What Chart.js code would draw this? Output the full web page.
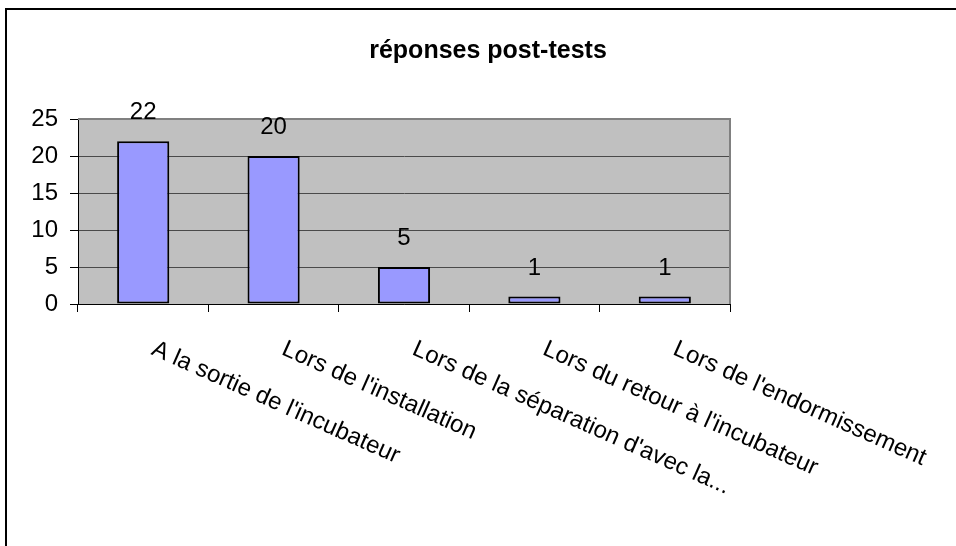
<!DOCTYPE html>
<html>
<head>
<meta charset="utf-8">
<script src="https://cdn.jsdelivr.net/npm/chart.js@4.4.1/dist/chart.umd.min.js"></script>
<style>
  html, body { margin: 0; padding: 0; background: #fff; }
  canvas { display: block; }
</style>
</head>
<body>
<canvas id="chart" width="956" height="546"></canvas>
<script>
const chartTitle = 'réponses post-tests';
const categories = [
  "A la sortie de l'incubateur",
  "Lors de l'installation",
  "Lors de la séparation d'avec la...",
  "Lors du retour à l'incubateur",
  "Lors de l'endormissement"
];
const responses = [22, 20, 5, 1, 1];
const yTicks = [0, 5, 10, 15, 20, 25];

const FONT = '"Liberation Sans", Arial, sans-serif';

// gray plot area + the chart frame (only left and top edges are visible)
const backdrop = {
  id: 'backdrop',
  beforeDraw(chart) {
    const { ctx, chartArea: a } = chart;
    ctx.save();
    ctx.fillStyle = '#c0c0c0';
    ctx.fillRect(a.left, a.top, a.right - a.left, a.bottom - a.top);
    ctx.strokeStyle = '#000';
    ctx.lineWidth = 2;
    ctx.beginPath();
    ctx.moveTo(6, chart.height);
    ctx.lineTo(6, 9);
    ctx.lineTo(chart.width, 9);
    ctx.stroke();
    ctx.restore();
  }
};

// title, value labels, slanted category labels
const decorations = {
  id: 'decorations',
  afterDatasetsDraw(chart) {
    const { ctx, chartArea: a } = chart;
    ctx.save();

    // plot border top/right
    ctx.strokeStyle = '#808080';
    ctx.lineWidth = 2;
    ctx.beginPath();
    ctx.moveTo(a.left, a.top);
    ctx.lineTo(a.right, a.top);
    ctx.lineTo(a.right, a.bottom);
    ctx.stroke();

    ctx.fillStyle = '#000';
    ctx.font = 'bold 25px ' + FONT;
    ctx.textAlign = 'center';
    ctx.textBaseline = 'alphabetic';
    ctx.fillText(chartTitle, 488, 58);

    ctx.font = '24px ' + FONT;
    const meta = chart.getDatasetMeta(0);
    meta.data.forEach((bar, i) => {
      ctx.fillText(String(responses[i]), bar.x, bar.y - 22);
    });

    const xs = chart.scales.x;
    ctx.textAlign = 'left';
    categories.forEach((label, i) => {
      const x = xs.getPixelForValue(i);
      ctx.save();
      ctx.translate(x + 7, 354);
      ctx.rotate(24 * Math.PI / 180);
      ctx.fillText(label, 0, 0);
      ctx.restore();
    });
    ctx.restore();
  }
};

new Chart(document.getElementById('chart'), {
  type: 'bar',
  data: {
    labels: categories,
    datasets: [{
      data: responses,
      backgroundColor: '#9999ff',
      borderColor: '#000',
      borderWidth: 2,
      borderSkipped: false,
      barPercentage: 0.4,
      categoryPercentage: 1
    }]
  },
  options: {
    responsive: false,
    animation: false,
    devicePixelRatio: 1,
    layout: { padding: { top: 119, right: 226, left: 0, bottom: 0 } },
    plugins: {
      legend: { display: false },
      tooltip: { enabled: false }
    },
    scales: {
      x: {
        offset: true,
        grid: { offset: true, drawOnChartArea: false, drawTicks: true, tickLength: 8, color: '#000' },
        border: { display: true, color: '#000', width: 1 },
        ticks: { display: false },
        afterFit: (s) => { s.height = 242; }
      },
      y: {
        min: yTicks[0],
        max: yTicks[yTicks.length - 1],
        afterBuildTicks: (s) => { s.ticks = yTicks.map(v => ({ value: v })); },
        grid: { color: '#4a4a4a', tickLength: 8, tickColor: '#000' },
        border: { display: true, color: '#000', width: 1 },
        ticks: { color: '#000', font: { family: FONT, size: 24 }, padding: 12 },
        afterFit: (s) => { s.width = 78; }
      }
    }
  },
  plugins: [backdrop, decorations]
});
</script>
</body>
</html>
